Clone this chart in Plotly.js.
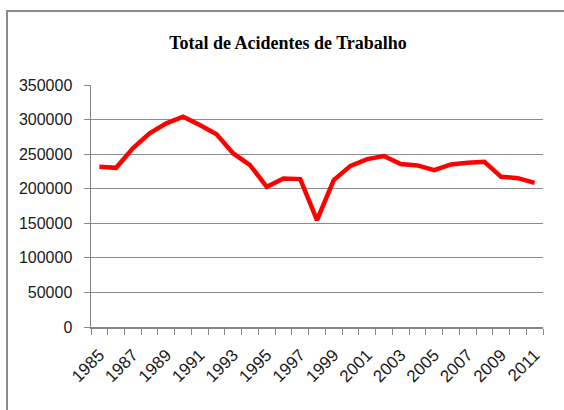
<!DOCTYPE html>
<html>
<head>
<meta charset="utf-8">
<script src="https://cdn.plot.ly/plotly-3.0.1.min.js"></script>
<style>
html,body{margin:0;padding:0;background:#fff;}
#chart{width:564px;height:410px;}
</style>
</head>
<body>
<div id="chart"></div>
<script>
const years = [1985,1986,1987,1988,1989,1990,1991,1992,1993,1994,1995,1996,1997,1998,1999,2000,2001,2002,2003,2004,2005,2006,2007,2008,2009,2010,2011];
const accidents = [231700,230200,258300,280000,294500,304100,292000,278600,251000,234100,202700,214900,213900,154500,212400,233100,242800,247200,235600,233700,226900,235100,237500,238900,217200,215300,208500];
const yTicks = [0,50000,100000,150000,200000,250000,300000,350000];
const xTickYears = [1985,1987,1989,1991,1993,1995,1997,1999,2001,2003,2005,2007,2009,2011];
const chartTitle = 'Total de Acidentes de Trabalho';

const L = 91, R = 21, T = 85, B = 83, W = 564, H = 410;
const pw = W - L - R, ph = H - T - B;
const labelFont = {family: '"Liberation Sans", Arial, sans-serif', size: 16, color: '#1a1a1a'};
const xLabelFont = {family: '"Liberation Sans", Arial, sans-serif', size: 17, color: '#1a1a1a'};

const trace = {
  x: years, y: accidents, type: 'scatter', mode: 'lines',
  line: {color: '#ff0000', width: 4.5, shape: 'linear'},
  hoverinfo: 'skip'
};

const layout = {
  width: W, height: H,
  margin: {l: L, r: R, t: T, b: B, pad: 0},
  paper_bgcolor: '#ffffff', plot_bgcolor: '#ffffff',
  showlegend: false,
  title: {
    text: chartTitle,
    font: {family: '"Liberation Serif", "Times New Roman", serif', size: 18, color: '#000', weight: 'bold'},
    x: 288 / W, xanchor: 'center', xref: 'container',
    y: 1 - 43 / H, yanchor: 'middle', yref: 'container'
  },
  xaxis: {
    type: 'linear', range: [1984.5, 2011.5], fixedrange: true,
    tickmode: 'array', tickvals: xTickYears, ticktext: xTickYears.map(String),
    tickangle: -45, tickfont: xLabelFont,
    ticks: 'outside', ticklen: 0, tickcolor: '#868686',
    showgrid: false, zeroline: false,
    showline: true, linecolor: '#868686', linewidth: 1.5,
    minor: {tickmode: 'linear', tick0: 1984.5, dtick: 1, ticks: 'outside', ticklen: 6, tickcolor: '#868686', tickwidth: 1, showgrid: false},
    ticklabelstandoff: 10
  },
  yaxis: {
    range: [0, 350000], fixedrange: true,
    tickmode: 'array', tickvals: yTicks, ticktext: yTicks.map(String),
    tickfont: labelFont,
    ticks: 'outside', ticklen: 6, tickcolor: '#868686', tickwidth: 1,
    showgrid: true, gridcolor: '#8c8c8c', gridwidth: 1,
    zeroline: false,
    showline: true, linecolor: '#868686', linewidth: 1.5,
    ticklabelstandoff: 8
  },
  shapes: [{
    type: 'rect', xref: 'paper', yref: 'paper', layer: 'below',
    x0: (7 - L) / pw, x1: (W + 20 - L) / pw,
    y0: -(H + 20 - (H - B)) / ph, y1: ((H - B) - 11) / ph,
    line: {color: '#8a8a8a', width: 2}, fillcolor: 'rgba(0,0,0,0)'
  }]
};

Plotly.newPlot('chart', [trace], layout, {displayModeBar: false, staticPlot: true});
</script>
</body>
</html>
